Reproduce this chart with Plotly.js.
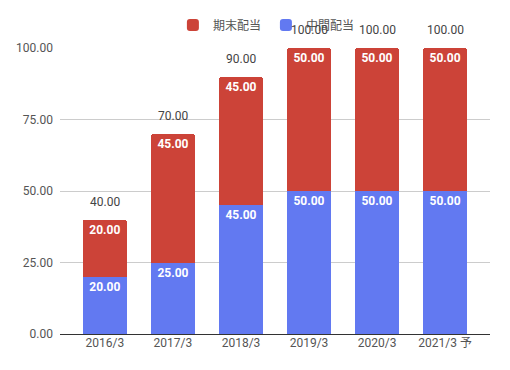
<!DOCTYPE html>
<html><head><meta charset="utf-8">
<script src="https://cdn.plot.ly/plotly-3.0.1.min.js"></script>
<style>html,body{margin:0;padding:0;background:#fff}#c{width:510px;height:370px}</style>
</head><body><div id="c"></div>
<script>
const categories = ["2016/3","2017/3","2018/3","2019/3","2020/3","2021/3 予"];
const interim = [20, 25, 45, 50, 50, 50];   // 中間配当
const yearEnd = [20, 45, 45, 50, 50, 50];   // 期末配当
const totals = categories.map((c,i)=>interim[i]+yearEnd[i]);
const yTicks = [0, 25, 50, 75, 100];
const fmt = v => v.toFixed(2);
const font = "Roboto, 'Noto Sans CJK JP', sans-serif";

const traces = [
  {type:'bar', name:'中間配当', x:categories, y:interim, marker:{color:'#6279f1'},
   text:interim.map(fmt), textposition:'inside', insidetextanchor:'end', textangle:0,
   textfont:{color:'#fff', size:12, family:font, weight:'bold'}, hoverinfo:'skip'},
  {type:'bar', name:'期末配当', x:categories, y:yearEnd, marker:{color:'#cc4338'},
   text:yearEnd.map(fmt), textposition:'inside', insidetextanchor:'end', textangle:0,
   textfont:{color:'#fff', size:12, family:font, weight:'bold'}, hoverinfo:'skip'}
];

const annotations = categories.map((c,i)=>({
  x:c, y:totals[i], xref:'x', yref:'y', text:fmt(totals[i]), showarrow:false,
  yanchor:'middle', yshift:18, font:{color:'#444', size:12, family:font}
}));

const layout = {
  width:510, height:370,
  margin:{l:60, r:20, t:48, b:36},
  barmode:'stack', bargap:0.35, barcornerradius:3,
  font:{family:font, color:'#555', size:12},
  showlegend:true,
  legend:{orientation:'h', x:0.48, xanchor:'center', y:1-25/370, yanchor:'middle', yref:'container',
          traceorder:'reversed', font:{size:12, color:'#555'}},
  xaxis:{type:'category', range:[-0.66, 5.66], showgrid:false, ticks:'', showline:false,
         tickfont:{size:12, color:'#555'}, zeroline:false},
  yaxis:{range:[0,100], tickvals:yTicks, ticktext:yTicks.map(fmt), gridcolor:'#ccc',
         zeroline:true, zerolinecolor:'#333', zerolinewidth:1, ticks:'', showline:false,
         tickfont:{size:12, color:'#555'}, ticklabelstandoff:6},
  annotations:annotations,
  plot_bgcolor:'#fff', paper_bgcolor:'#fff'
};
Plotly.newPlot('c', traces, layout, {displayModeBar:false, staticPlot:true});
</script></body></html>
